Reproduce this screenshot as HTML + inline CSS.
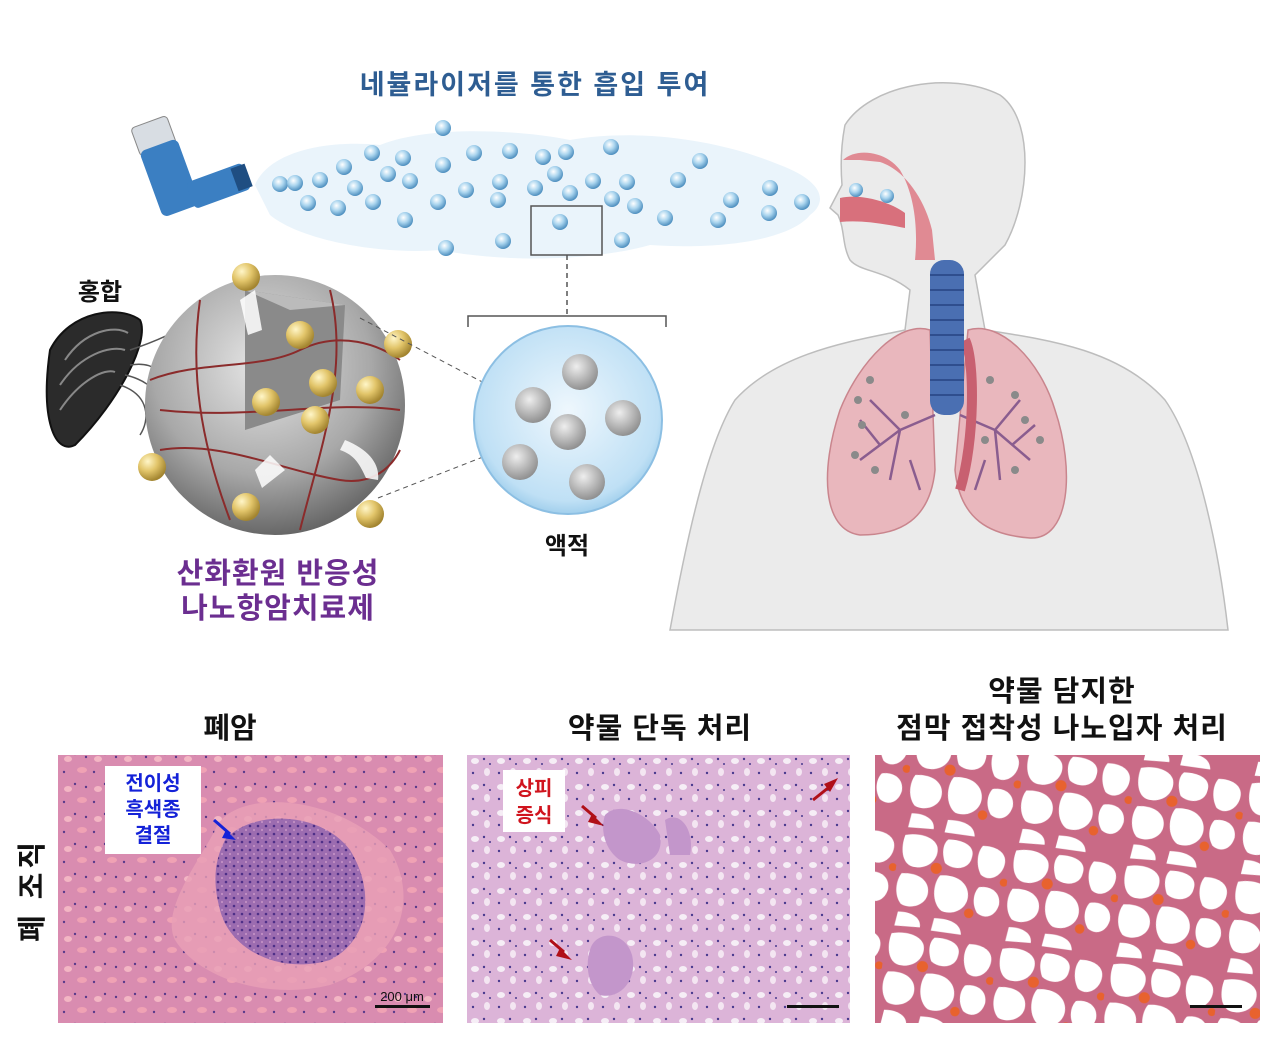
<!DOCTYPE html>
<html><head><meta charset="utf-8"><style>
body{margin:0;width:1280px;height:1040px;background:#fff;overflow:hidden;font-family:"Liberation Sans","Noto Sans CJK KR",sans-serif;}
svg{position:absolute;left:0;top:0}
</style></head><body>
<svg width="1280" height="1040" viewBox="0 0 1280 1040" xmlns="http://www.w3.org/2000/svg">
<defs>
<radialGradient id="bub" cx="40%" cy="35%" r="65%"><stop offset="0" stop-color="#ffffff"/><stop offset="0.5" stop-color="#a9d4ee"/><stop offset="1" stop-color="#4e8fbf"/></radialGradient>
<radialGradient id="gold" cx="35%" cy="30%" r="70%"><stop offset="0" stop-color="#fff6c8"/><stop offset="0.5" stop-color="#e2c56a"/><stop offset="1" stop-color="#a38530"/></radialGradient>
<radialGradient id="sph" cx="45%" cy="35%" r="70%"><stop offset="0" stop-color="#e6e6e6"/><stop offset="0.6" stop-color="#a8a8a8"/><stop offset="1" stop-color="#5a5a5a"/></radialGradient>
<radialGradient id="drop" cx="50%" cy="45%" r="60%"><stop offset="0" stop-color="#eef7fd"/><stop offset="0.8" stop-color="#bfe0f5"/><stop offset="1" stop-color="#8cc3e6"/></radialGradient>
<radialGradient id="mini" cx="40%" cy="35%" r="70%"><stop offset="0" stop-color="#eeeeee"/><stop offset="1" stop-color="#8a8a8a"/></radialGradient>
<pattern id="p1" width="30" height="30" patternUnits="userSpaceOnUse"><rect width="30" height="30" fill="#d98cb0"/><ellipse cx="8" cy="9" rx="4" ry="3" fill="#f3b6c4"/><ellipse cx="22" cy="20" rx="5" ry="3" fill="#f0a2b4"/><circle cx="15" cy="4" r="1.2" fill="#5a3a8a"/><circle cx="4" cy="22" r="1.2" fill="#5a3a8a"/><circle cx="26" cy="7" r="1.2" fill="#5a3a8a"/></pattern>
<pattern id="pn" width="8" height="8" patternUnits="userSpaceOnUse"><rect width="8" height="8" fill="#9c6cb0"/><circle cx="2" cy="2" r="1.3" fill="#4e2f88"/><circle cx="6" cy="6" r="1.1" fill="#c290c4"/></pattern>
<pattern id="p2" width="26" height="26" patternUnits="userSpaceOnUse"><rect width="26" height="26" fill="#dcb4d8"/><ellipse cx="7" cy="7" rx="4" ry="3" fill="#f6eef6"/><ellipse cx="19" cy="18" rx="3" ry="4" fill="#f4e6f2"/><circle cx="16" cy="5" r="1.2" fill="#4a3a8e"/><circle cx="5" cy="19" r="1.2" fill="#4a3a8e"/><circle cx="22" cy="10" r="1" fill="#4a3a8e"/></pattern>
<pattern id="p3" width="70" height="62" patternUnits="userSpaceOnUse" patternTransform="rotate(8) scale(1.6)"><rect width="70" height="62" fill="#c96a86"/><path d="M3 4 C12 1 22 3 24 9 C26 16 20 24 10 23 C3 22 1 12 3 4Z" fill="#fff"/><path d="M30 3 C40 2 48 5 46 13 C45 20 36 22 30 18 C27 12 27 6 30 3Z" fill="#fff"/><path d="M52 4 C60 3 68 6 67 14 C66 22 58 26 53 22 C49 16 49 8 52 4Z" fill="#fff"/><path d="M4 28 C14 26 22 30 22 38 C22 46 12 50 6 47 C1 42 1 33 4 28Z" fill="#fff"/><path d="M28 26 C38 24 46 28 47 36 C48 44 40 50 32 48 C25 44 24 32 28 26Z" fill="#fff"/><path d="M53 30 C60 28 67 31 67 39 C66 46 60 50 54 46 C50 41 50 34 53 30Z" fill="#fff"/><path d="M5 52 C12 51 20 53 20 60 L4 61Z" fill="#fff"/><path d="M28 53 C38 52 45 54 46 61 L27 61Z" fill="#fff"/><circle cx="25" cy="22" r="3.5" fill="#e8622e"/><circle cx="49" cy="47" r="3" fill="#e8622e"/><circle cx="68" cy="25" r="2.5" fill="#e8622e"/></pattern>
</defs>

<text x="535" y="94" text-anchor="middle" font-size="27" font-weight="bold" fill="#2e5d92" letter-spacing="2">네뷸라이저를 통한 흡입 투여</text>

<path d="M255 185 C270 150 330 140 380 145 C430 125 520 130 570 140 C640 128 720 140 780 165 C820 180 830 200 810 215 C790 240 720 250 650 245 C590 262 500 262 440 250 C380 255 300 240 270 215 Z" fill="#eaf4fb"/>
<g fill="url(#bub)">
<circle cx="443" cy="128" r="8"/><circle cx="372" cy="153" r="8"/><circle cx="403" cy="158" r="8"/><circle cx="474" cy="153" r="8"/><circle cx="510" cy="151" r="8"/><circle cx="543" cy="157" r="8"/><circle cx="566" cy="152" r="8"/><circle cx="611" cy="147" r="8"/><circle cx="700" cy="161" r="8"/>
<circle cx="280" cy="184" r="8"/><circle cx="295" cy="183" r="8"/><circle cx="320" cy="180" r="8"/><circle cx="344" cy="167" r="8"/><circle cx="355" cy="188" r="8"/><circle cx="388" cy="174" r="8"/><circle cx="410" cy="181" r="8"/><circle cx="443" cy="165" r="8"/><circle cx="466" cy="190" r="8"/><circle cx="500" cy="182" r="8"/><circle cx="535" cy="188" r="8"/><circle cx="555" cy="174" r="8"/><circle cx="570" cy="193" r="8"/><circle cx="593" cy="181" r="8"/><circle cx="627" cy="182" r="8"/><circle cx="678" cy="180" r="8"/><circle cx="770" cy="188" r="8"/><circle cx="802" cy="202" r="8"/>
<circle cx="308" cy="203" r="8"/><circle cx="338" cy="208" r="8"/><circle cx="373" cy="202" r="8"/><circle cx="405" cy="220" r="8"/><circle cx="438" cy="202" r="8"/><circle cx="498" cy="200" r="8"/><circle cx="612" cy="199" r="8"/><circle cx="635" cy="206" r="8"/><circle cx="665" cy="218" r="8"/><circle cx="731" cy="200" r="8"/><circle cx="718" cy="220" r="8"/><circle cx="769" cy="213" r="8"/><circle cx="560" cy="222" r="8"/>
<circle cx="446" cy="248" r="8"/><circle cx="503" cy="241" r="8"/><circle cx="622" cy="240" r="8"/>
</g>
<rect x="531" y="206" width="71" height="49" fill="none" stroke="#555" stroke-width="1.5"/>
<line x1="567" y1="255" x2="567" y2="315" stroke="#555" stroke-width="1.5" stroke-dasharray="5,4"/>
<path d="M468 327 V316 H666 V327" fill="none" stroke="#555" stroke-width="1.5"/>

<g transform="rotate(-20 190 160)">
<rect x="145" y="110" width="38" height="30" rx="4" fill="#d8dde3" stroke="#888"/>
<rect x="145" y="135" width="40" height="70" rx="6" fill="#3b7fc2"/>
<rect x="178" y="180" width="60" height="28" rx="5" fill="#3b7fc2"/>
<rect x="225" y="182" width="15" height="24" fill="#1f4e82"/>
</g>

<path d="M845 125 C870 85 950 70 1000 95 C1035 120 1030 200 1005 245 L975 275 L985 330 C1050 340 1120 350 1165 400 C1200 450 1220 560 1228 630 L670 630 C690 520 710 440 735 400 C780 350 860 340 905 330 L910 290 C885 270 860 272 850 260 C842 245 845 230 838 215 L830 208 L842 185 C840 160 842 140 845 125 Z" fill="#ebebeb" stroke="#bdbdbd" stroke-width="1.5"/>
<path d="M843 160 C855 148 885 150 900 170 C915 195 918 230 915 260 L935 260 L932 230 C925 200 905 170 880 162 L860 160 Z" fill="#e08a93"/>
<path d="M840 198 C862 193 892 203 905 213 L905 228 C880 223 860 220 840 222 Z" fill="#d8707c"/>
<circle cx="856" cy="190" r="7" fill="url(#bub)"/><circle cx="887" cy="196" r="7" fill="url(#bub)"/>
<path d="M930 330 C900 320 860 360 840 410 C820 470 822 530 860 535 C900 535 930 520 935 470 Z" fill="#e9b7bd" stroke="#c9858d" stroke-width="1.5"/>
<path d="M968 330 C1000 320 1040 360 1055 410 C1075 470 1070 540 1030 538 C990 535 960 520 955 470 Z" fill="#e9b7bd" stroke="#c9858d" stroke-width="1.5"/>
<g stroke="#8a5d8f" stroke-width="2.5" fill="none">
<path d="M935 415 L900 430 L870 400 M900 430 L860 460 M900 430 L890 480 M880 445 L860 420 M910 460 L920 490"/>
<path d="M960 415 L995 430 L1020 400 M995 430 L1030 460 M995 430 L1000 480 M1012 445 L1035 425 M985 460 L975 490"/>
</g>
<g fill="#8a8a8a"><circle cx="870" cy="380" r="4"/><circle cx="858" cy="400" r="4"/><circle cx="862" cy="425" r="4"/><circle cx="855" cy="455" r="4"/><circle cx="875" cy="470" r="4"/><circle cx="905" cy="415" r="4"/><circle cx="990" cy="380" r="4"/><circle cx="1015" cy="395" r="4"/><circle cx="1025" cy="420" r="4"/><circle cx="1040" cy="440" r="4"/><circle cx="1015" cy="470" r="4"/><circle cx="985" cy="440" r="4"/></g>
<path d="M965 340 C975 360 975 440 960 490" stroke="#c86070" stroke-width="10" fill="none"/>
<rect x="930" y="260" width="34" height="155" rx="14" fill="#4a6fb2"/>
<g stroke="#2f4e8e" stroke-width="2"><line x1="930" y1="275" x2="964" y2="275"/><line x1="930" y1="290" x2="964" y2="290"/><line x1="930" y1="305" x2="964" y2="305"/><line x1="930" y1="320" x2="964" y2="320"/><line x1="930" y1="335" x2="964" y2="335"/><line x1="930" y1="350" x2="964" y2="350"/><line x1="930" y1="365" x2="964" y2="365"/><line x1="930" y1="380" x2="964" y2="380"/><line x1="930" y1="395" x2="964" y2="395"/></g>

<text x="100" y="300" text-anchor="middle" font-size="24" font-weight="bold" fill="#111">홍합</text>
<path d="M50 350 C70 310 120 305 140 320 C150 340 120 400 75 445 C55 455 40 420 50 350Z" fill="#2b2b2b" stroke="#111" stroke-width="2"/>
<path d="M65 360 C85 330 115 325 128 333 M60 385 C80 355 110 345 125 350 M60 410 C80 380 105 368 115 372" stroke="#888" stroke-width="2" fill="none"/>
<g stroke="#555" stroke-width="1.5" fill="none"><path d="M130 350 C160 340 180 330 195 320"/><path d="M130 365 C160 360 170 380 150 400"/><path d="M120 385 C150 395 150 420 140 435"/><path d="M125 375 C150 380 170 400 160 420"/></g>
<circle cx="275" cy="405" r="130" fill="url(#sph)"/>
<path d="M245 290 L345 305 L340 400 L245 430 Z" fill="#8a8a8a"/>
<path d="M245 290 L290 310 L345 305" fill="#bbb"/>
<g stroke="#8b2b2b" stroke-width="2" fill="none"><path d="M150 380 C200 360 260 370 300 350 C340 330 380 345 400 360"/><path d="M160 450 C220 440 280 470 340 480 C370 485 390 470 400 450"/><path d="M200 300 C190 370 200 440 230 520"/><path d="M330 290 C350 370 320 450 300 530"/><path d="M160 410 C250 420 330 400 400 410"/></g>
<g fill="url(#gold)"><circle cx="246" cy="277" r="14"/><circle cx="398" cy="344" r="14"/><circle cx="152" cy="467" r="14"/><circle cx="246" cy="507" r="14"/><circle cx="370" cy="514" r="14"/><circle cx="300" cy="335" r="14"/><circle cx="323" cy="383" r="14"/><circle cx="370" cy="390" r="14"/><circle cx="266" cy="402" r="14"/><circle cx="315" cy="420" r="14"/></g>
<g fill="#fff" opacity="0.85"><path d="M240 300 L255 290 L262 330 L248 335Z"/><path d="M270 455 L285 470 L262 488 L255 470Z"/><path d="M345 440 C370 450 380 465 378 480 L366 478 C360 465 355 455 340 450Z"/></g>
<line x1="360" y1="318" x2="488" y2="385" stroke="#555" stroke-dasharray="5,4"/>
<line x1="378" y1="498" x2="488" y2="455" stroke="#555" stroke-dasharray="5,4"/>
<text x="278" y="583" text-anchor="middle" font-size="29" font-weight="bold" fill="#6b2e90" letter-spacing="1">산화환원 반응성</text>
<text x="278" y="618" text-anchor="middle" font-size="29" font-weight="bold" fill="#6b2e90" letter-spacing="1">나노항암치료제</text>

<circle cx="568" cy="420" r="94" fill="url(#drop)" stroke="#8cbfe3" stroke-width="2"/>
<g fill="url(#mini)"><circle cx="580" cy="372" r="18"/><circle cx="533" cy="405" r="18"/><circle cx="568" cy="432" r="18"/><circle cx="623" cy="418" r="18"/><circle cx="520" cy="462" r="18"/><circle cx="587" cy="482" r="18"/></g>
<text x="567" y="554" text-anchor="middle" font-size="24" font-weight="bold" fill="#111">액적</text>

<text x="230" y="738" text-anchor="middle" font-size="29" font-weight="bold" fill="#111">폐암</text>
<text x="660" y="738" text-anchor="middle" font-size="29" font-weight="bold" fill="#111" letter-spacing="1">약물 단독 처리</text>
<text x="1062" y="701" text-anchor="middle" font-size="29" font-weight="bold" fill="#111" letter-spacing="1">약물 담지한</text>
<text x="1062" y="738" text-anchor="middle" font-size="29" font-weight="bold" fill="#111" letter-spacing="1">점막 접착성 나노입자 처리</text>
<text transform="translate(42 890) rotate(-90)" text-anchor="middle" font-size="29" font-weight="bold" fill="#111" letter-spacing="4">폐 조직</text>

<rect x="58" y="755" width="385" height="268" fill="url(#p1)"/>
<path d="M215 830 C230 790 330 790 390 850 C420 900 400 960 330 985 C270 1000 200 980 175 940 C160 910 200 860 215 830Z" fill="#e8a0b6" opacity="0.8"/>
<path d="M225 840 C250 810 320 810 350 850 C375 890 370 940 330 960 C280 975 230 950 220 910 C212 880 215 860 225 840Z" fill="url(#pn)"/>
<rect x="105" y="766" width="96" height="88" fill="#fff"/>
<g font-size="20" font-weight="bold" fill="#1422d8" text-anchor="middle"><text x="153" y="790">전이성</text><text x="153" y="816">흑색종</text><text x="153" y="842">결절</text></g>
<line x1="214" y1="820" x2="230" y2="834" stroke="#1422d8" stroke-width="3"/>
<path d="M226 830 L236 840 L222 838Z" fill="#1422d8"/>
<text x="402" y="1001" text-anchor="middle" font-size="13" fill="#111">200 μm</text>
<rect x="375" y="1005" width="55" height="3" fill="#111"/>

<rect x="467" y="755" width="383" height="268" fill="url(#p2)"/>
<path d="M605 815 C620 800 650 815 660 835 C665 860 640 870 620 860 C605 850 600 830 605 815Z" fill="#c396cb"/>
<path d="M665 820 C680 810 695 830 690 855 L670 855Z" fill="#c396cb"/>
<path d="M590 950 C595 930 625 930 632 955 C638 980 620 1000 600 995 C588 985 585 965 590 950Z" fill="#c396cb"/>
<rect x="503" y="770" width="62" height="62" fill="#fff"/>
<g font-size="20" font-weight="bold" fill="#d0141e" text-anchor="middle"><text x="534" y="795">상피</text><text x="534" y="822">증식</text></g>
<g stroke="#b01018" stroke-width="3"><line x1="582" y1="806" x2="596" y2="818"/><line x1="550" y1="940" x2="564" y2="952"/><line x1="813" y1="800" x2="828" y2="788"/></g>
<g fill="#b01018"><path d="M592 814 L604 826 L588 822Z"/><path d="M560 948 L572 960 L556 956Z"/><path d="M824 784 L838 778 L830 792Z"/></g>
<rect x="787" y="1005" width="52" height="3" fill="#111"/>

<rect x="875" y="755" width="385" height="268" fill="url(#p3)"/>
<rect x="1190" y="1005" width="52" height="3" fill="#111"/>
</svg>
</body></html>
